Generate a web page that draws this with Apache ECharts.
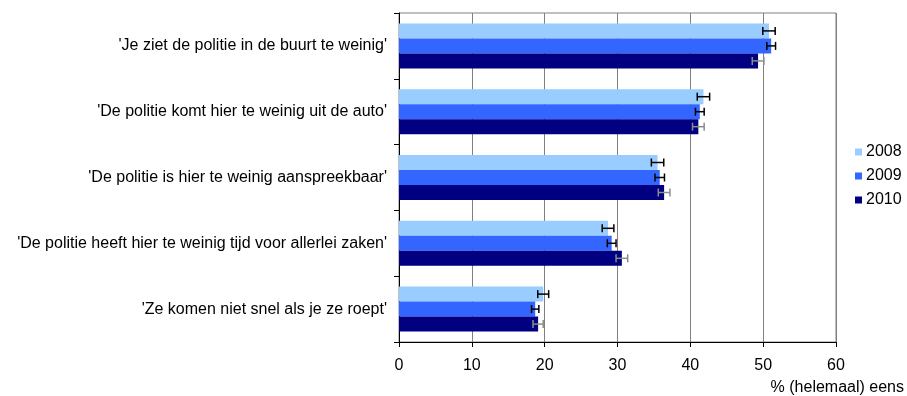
<!DOCTYPE html>
<html>
<head>
<meta charset="utf-8">
<script src="https://cdn.jsdelivr.net/npm/echarts@6/dist/echarts.min.js"></script>
<style>
  html, body { margin: 0; padding: 0; background: #fff; }
  #chart { width: 907px; height: 396px; }
</style>
</head>
<body>
<div id="chart"></div>
<script>
// uitspraken (van boven naar beneden)
var statements = [
  "'Je ziet de politie in de buurt te weinig'",
  "'De politie komt hier te weinig uit de auto'",
  "'De politie is hier te weinig aanspreekbaar'",
  "'De politie heeft hier te weinig tijd voor allerlei zaken'",
  "'Ze komen niet snel als je ze roept'"
];
var years = ["2008", "2009", "2010"];
var colors = ["#99CCFF", "#3366FF", "#000080"];
var errColors = ["#000000", "#000000", "#8C8C8C"];

// % (helemaal) eens
var values2008 = [50.8, 41.8, 35.5, 28.7, 19.8];
var values2009 = [51.1, 41.3, 35.8, 29.2, 18.7];
var values2010 = [49.3, 41.1, 36.4, 30.6, 19.1];
// halve breedte van de foutbalken
var err2008 = [0.85, 0.85, 0.85, 0.8, 0.75];
var err2009 = [0.6, 0.6, 0.65, 0.6, 0.5];
var err2010 = [0.8, 0.8, 0.8, 0.8, 0.7];

var allValues = [values2008, values2009, values2010];
var allErr = [err2008, err2009, err2010];
var barWidth = 15;

var chart = echarts.init(document.getElementById("chart"));

var series = [];
for (var i = 0; i < years.length; i++) {
  series.push({
    name: years[i],
    type: "bar",
    barWidth: barWidth,
    barGap: "0%",
    itemStyle: { color: colors[i] },
    data: allValues[i],
    z: 2
  });
}
// foutbalken
for (var i = 0; i < years.length; i++) {
  (function (k) {
    var data = allValues[k].map(function (v, j) {
      return [j, v - allErr[k][j], v + allErr[k][j]];
    });
    series.push({
      name: years[k] + " fout",
      type: "custom",
      z: 5,
      encode: { y: 0, x: [1, 2] },
      data: data,
      renderItem: function (params, api) {
        var cat = api.value(0);
        var lo = api.coord([api.value(1), cat]);
        var hi = api.coord([api.value(2), cat]);
        var y = lo[1] + (k - 1) * barWidth;
        var cap = 4;
        var style = { stroke: errColors[k], lineWidth: 1.5, fill: null };
        return {
          type: "group",
          children: [
            { type: "line", shape: { x1: lo[0], y1: y, x2: hi[0], y2: y }, style: style },
            { type: "line", shape: { x1: lo[0], y1: y - cap, x2: lo[0], y2: y + cap }, style: style },
            { type: "line", shape: { x1: hi[0], y1: y - cap, x2: hi[0], y2: y + cap }, style: style }
          ]
        };
      }
    });
  })(i);
}

var option = {
  animation: false,
  textStyle: { fontFamily: "Liberation Sans, Arial, sans-serif" },
  grid: {
    left: 399,
    top: 13,
    width: 438,
    height: 332,
    show: true,
    borderColor: "#808080",
    borderWidth: 1,
    containLabel: false
  },
  legend: {
    data: years,
    orient: "vertical",
    left: 850,
    top: 139,
    icon: "rect",
    itemWidth: 7,
    itemHeight: 7,
    itemGap: 8,
    textStyle: { fontSize: 16, color: "#000", padding: [0, 0, 0, -1] }
  },
  xAxis: {
    type: "value",
    min: 0,
    max: 60,
    interval: 10,
    name: "% (helemaal) eens",
    nameLocation: "end",
    nameGap: 68,
    nameTextStyle: {
      fontSize: 16,
      color: "#000",
      align: "right",
      verticalAlign: "top",
      padding: [38, 0, 0, 0]
    },
    axisLine: { show: true, lineStyle: { color: "#000", width: 1 } },
    axisTick: { show: true, length: 5, lineStyle: { color: "#000" } },
    axisLabel: { fontSize: 16, color: "#000", margin: 16 },
    splitLine: { show: true, lineStyle: { color: "#808080", width: 1 } }
  },
  yAxis: {
    type: "category",
    inverse: true,
    data: statements,
    axisLine: { show: true, lineStyle: { color: "#000", width: 1 } },
    axisTick: { show: true, length: 5, lineStyle: { color: "#000" } },
    axisLabel: { fontSize: 16, color: "#000", margin: 12 },
    splitLine: { show: false }
  },
  series: series
};

chart.setOption(option);
</script>
</body>
</html>
